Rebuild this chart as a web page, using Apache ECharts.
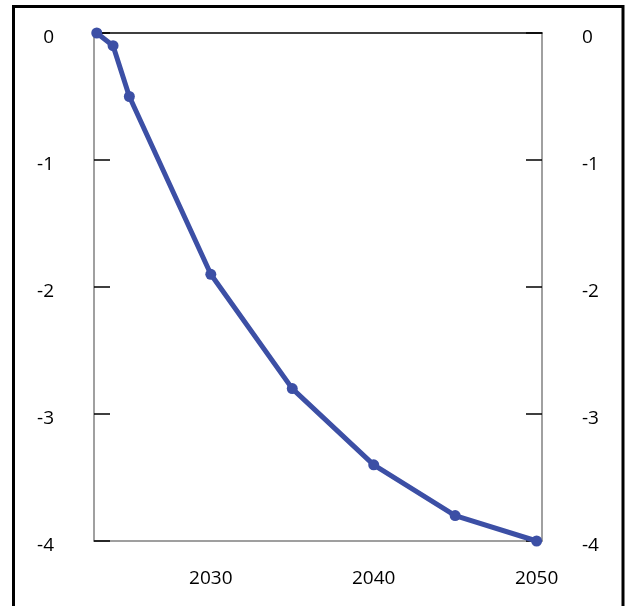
<!DOCTYPE html>
<html>
<head>
<meta charset="utf-8">
<script src="https://cdn.jsdelivr.net/npm/echarts@6/dist/echarts.min.js"></script>
<style>
  html, body { margin: 0; padding: 0; background: #fff; }
  #chart { width: 625px; height: 606px; }
</style>
</head>
<body>
<div id="chart"></div>
<script>
// Years and values of the projected path
const years = [2023, 2024, 2025, 2030, 2035, 2040, 2045, 2050];
const values = [0, -0.1, -0.5, -1.9, -2.8, -3.4, -3.8, -4.0];
const xTickYears = [2030, 2040, 2050];
const yTicks = [0, -1, -2, -3, -4];

const FONT = '"Open Sans", "Noto Sans", sans-serif';
const LINE_COLOR = '#3c4fa5';

const chart = echarts.init(document.getElementById('chart'), null, { renderer: 'canvas' });

const yAxisCommon = {
  type: 'value',
  min: yTicks[yTicks.length - 1],
  max: yTicks[0],
  interval: 1,
  splitLine: { show: false },
  axisLine: { show: true, lineStyle: { color: '#808080', width: 1.5 } },
  axisTick: { show: true, inside: true, length: 16, lineStyle: { color: '#000', width: 1.5 } },
  axisLabel: {
    margin: 40,
    color: '#000',
    fontFamily: FONT,
    fontSize: 19,
    verticalAlign: 'top',
    lineHeight: 10
  }
};

chart.setOption({
  animation: false,
  backgroundColor: '#fff',
  grid: { left: 94, right: 83, top: 33, bottom: 65, containLabel: false },
  xAxis: [
    {
      type: 'value',
      position: 'bottom',
      min: 2022.83,
      max: 2050.33,
      splitLine: { show: false },
      axisLine: { show: true, onZero: false, lineStyle: { color: '#808080', width: 1.5 } },
      axisTick: { show: false },
      axisLabel: {
        customValues: xTickYears,
        margin: 28,
        color: '#000',
        fontFamily: FONT,
        fontSize: 19,
        formatter: v => String(v)
      }
    },
    {
      // zero line along the top edge
      type: 'value',
      position: 'top',
      min: 2022.83,
      max: 2050.33,
      splitLine: { show: false },
      axisLine: { show: true, onZero: false, lineStyle: { color: '#000', width: 1.5 } },
      axisTick: { show: false },
      axisLabel: { show: false }
    }
  ],
  yAxis: [
    Object.assign({ position: 'left' }, yAxisCommon),
    Object.assign({ position: 'right' }, yAxisCommon)
  ],
  series: [
    {
      type: 'line',
      xAxisIndex: 0,
      yAxisIndex: 0,
      data: years.map((y, i) => [y, values[i]]),
      lineStyle: { color: LINE_COLOR, width: 5 },
      itemStyle: { color: LINE_COLOR },
      symbol: 'circle',
      symbolSize: 11,
      clip: false,
      z: 5
    }
  ],
  graphic: [
    {
      type: 'rect',
      shape: { x: 13.5, y: 6.5, width: 609.5, height: 700 },
      style: { fill: 'none', stroke: '#000', lineWidth: 3 },
      silent: true,
      z: 100
    }
  ]
});
</script>
</body>
</html>
